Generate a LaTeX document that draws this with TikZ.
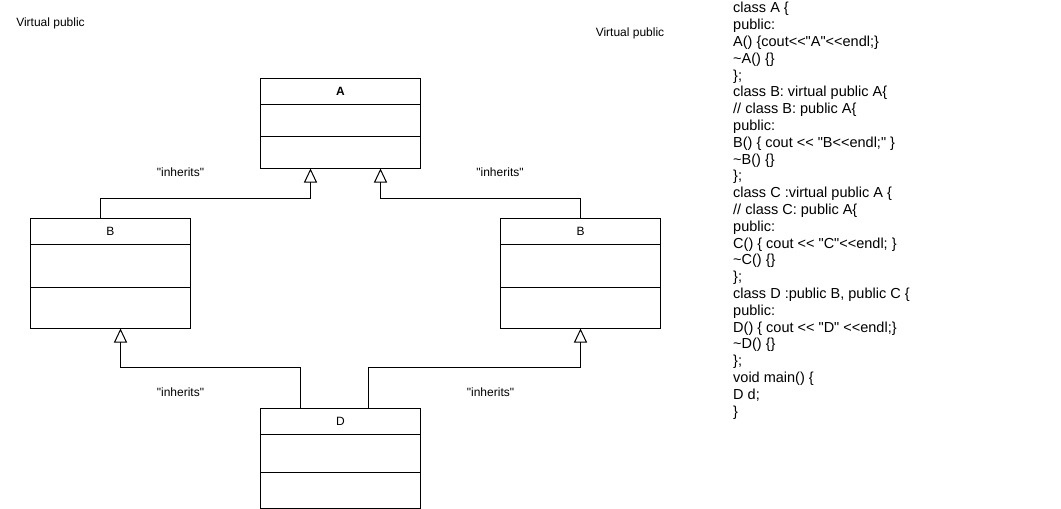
\documentclass[tikz,border=0pt]{standalone}
\usepackage{fontspec}
\newfontfamily\arial{Liberation Sans}
\usetikzlibrary{arrows.meta}

\tikzset{
  umlbox/.style={draw=black, line width=1pt, minimum width=160pt, inner sep=0pt},
  title/.style={font=\arial\fontsize{12}{14}\selectfont, inner sep=0pt},
  lbl/.style={font=\arial\fontsize{12}{14}\selectfont, inner sep=0pt},
  inh/.style={draw=black, line width=1pt,
    -{Triangle[open, length=14pt, width=13pt, line width=1pt]}},
  codetext/.style={font=\arial\fontsize{14.5}{16.8}\selectfont, align=left, inner sep=0pt, anchor=base west}
}

\begin{document}
\begin{tikzpicture}[x=1pt, y=-1pt]
  \useasboundingbox[fill=white] (0,0) rectangle (1061,509);

  % class A
  \node[umlbox, minimum height=90pt] (A) at (340.5,123) {};
  \node[title] (Aname) at (340.5,91) {\bfseries A};
  \draw[line width=1pt] (A.west |- 0,104) -- (A.east |- 0,104);
  \draw[line width=1pt] (A.west |- 0,136) -- (A.east |- 0,136);

  % class B (left)
  \node[umlbox, minimum height=110pt] (B1) at (110.5,273) {};
  \node[title] (B1name) at (110.5,231) {B};
  \draw[line width=1pt] (B1.west |- 0,244) -- (B1.east |- 0,244);
  \draw[line width=1pt] (B1.west |- 0,287) -- (B1.east |- 0,287);

  % class B (right)
  \node[umlbox, minimum height=110pt] (B2) at (580.5,273) {};
  \node[title] (B2name) at (580.5,231) {B};
  \draw[line width=1pt] (B2.west |- 0,244) -- (B2.east |- 0,244);
  \draw[line width=1pt] (B2.west |- 0,287) -- (B2.east |- 0,287);

  % class D
  \node[umlbox, minimum height=100pt] (D) at (340.5,458) {};
  \node[title] (Dname) at (340.5,421) {D};
  \draw[line width=1pt] (D.west |- 0,434) -- (D.east |- 0,434);
  \draw[line width=1pt] (D.west |- 0,472) -- (D.east |- 0,472);

  % inheritance connectors
  \draw[inh] ([xshift=-10pt]B1.north) -- ++(0,-19) -| ([xshift=-30pt]A.south);
  \draw[inh] (B2.north) -- ++(0,-19) -| ([xshift=40pt]A.south);
  \draw[inh] ([xshift=-40pt]D.north) -- ++(0,-40) -| ([xshift=10pt]B1.south);
  \draw[inh] ([xshift=28pt]D.north) -- ++(0,-40) -| (B2.south);

  % connector labels
  \node[lbl] (l1) at (180.5,172.5) {"inherits"};
  \node[lbl] (l2) at (500,172.5) {"inherits"};
  \node[lbl] (l3) at (180.5,392.5) {"inherits"};
  \node[lbl] (l4) at (490.5,392.5) {"inherits"};

  \node[lbl] (v1) at (50.5,23.5) {Virtual public};
  \node[lbl] (v2) at (630,33.5) {Virtual public};

  % source listing (anchored at the baseline of its last line)
  \node[codetext] (code) at (733,416) {%
class A \{\\
public:\\
A() \{cout<<"A"<<endl;\}\\
\textasciitilde A() \{\}\\
\};\\
class B: virtual public A\{\\
// class B: public A\{\\
public:\\
B() \{ cout << "B<<endl;" \}\\
\textasciitilde B() \{\}\\
\};\\
class C :virtual public A \{\\
// class C: public A\{\\
public:\\
C() \{ cout << "C"<<endl; \}\\
\textasciitilde C() \{\}\\
\};\\
class D :public B, public C \{\\
public:\\
D() \{ cout << "D" <<endl;\}\\
\textasciitilde D() \{\}\\
\};\\
void main() \{\\
D d;\\
\}};
\end{tikzpicture}
\end{document}
